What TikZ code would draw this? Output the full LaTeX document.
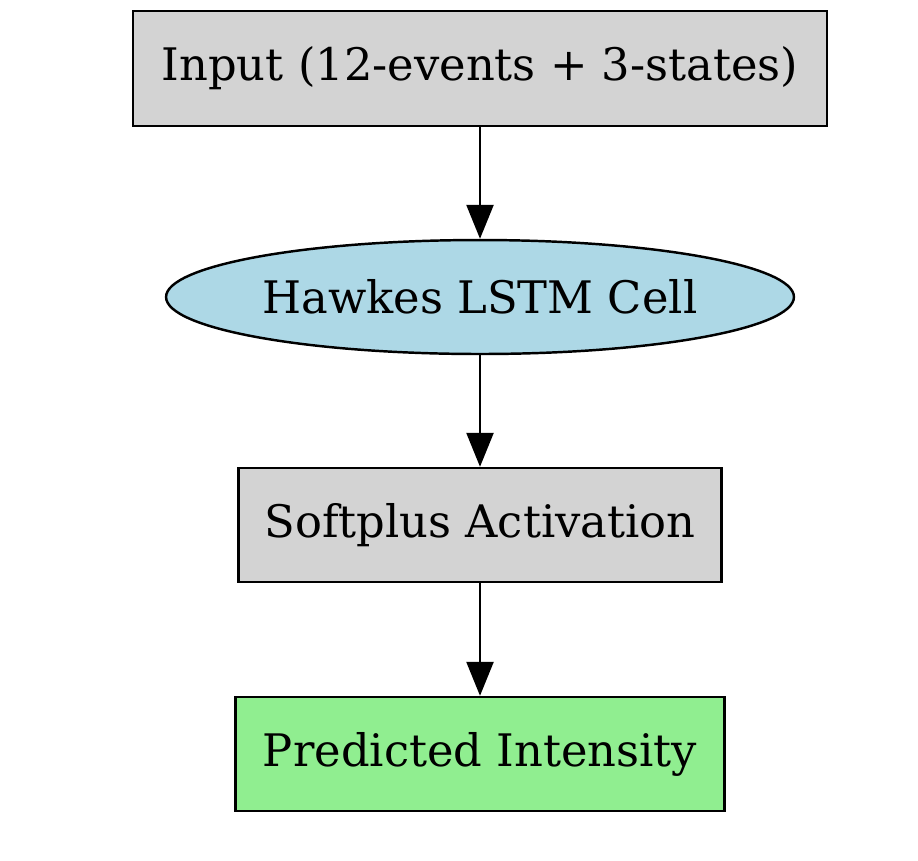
\documentclass[tikz,border=0pt]{standalone}
\usepackage{fontspec}
\setmainfont{DejaVu Serif}
\usetikzlibrary{arrows.meta,shapes.geometric}
\definecolor{lightgrayfill}{HTML}{D3D3D3}
\definecolor{lightbluefill}{HTML}{ADD8E6}
\definecolor{lightgreenfill}{HTML}{90EE90}
\begin{document}
\begin{tikzpicture}[x=0.02cm,y=-0.02cm,
  every node/.style={font=\fontsize{25.5}{30}\selectfont, line width=1.4pt, draw=black, inner sep=0pt},
  box/.style={rectangle, minimum height=2.3cm},
  cell/.style={ellipse, minimum width=12.56cm, minimum height=2.28cm, fill=lightbluefill},
  link/.style={line width=1.4pt, -{Triangle[length=0.68cm,width=0.54cm]}}]
\useasboundingbox (0,0) rectangle (918,860);
\node [box, fill=lightgrayfill, minimum width=13.88cm] (input) at (480,68.5) {Input (12-events + 3-states)};
\node [cell] (lstm) at (480,297) {Hawkes LSTM Cell};
\node [box, fill=lightgrayfill, minimum width=9.66cm, minimum height=2.28cm] (softplus) at (480,525) {Softplus Activation};
\node [box, fill=lightgreenfill, minimum width=9.78cm, minimum height=2.28cm] (intensity) at (480,754) {Predicted Intensity};
\draw [link] (input) -- (lstm);
\draw [link] (lstm) -- (softplus);
\draw [link] (softplus) -- (intensity);
\end{tikzpicture}
\end{document}
